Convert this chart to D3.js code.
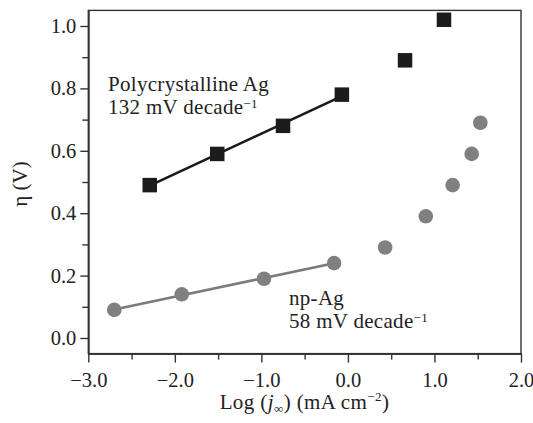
<!DOCTYPE html>
<html>
<head>
<meta charset="utf-8">
<script src="https://cdn.jsdelivr.net/npm/d3@7"></script>
<style>
  body { margin: 0; background: #fff; }
  svg text { font-family: "Liberation Serif", "DejaVu Serif", serif; fill: #222; }
</style>
</head>
<body>
<svg id="canvas" width="533" height="423"></svg>
<script>
"use strict";

// data
const polyLogJ = [-2.29, -1.51, -0.75, -0.07, 0.66, 1.11];
const polyEta = [0.49, 0.59, 0.68, 0.78, 0.89, 1.02];
const npLogJ = [-2.70, -1.92, -0.97, -0.16, 0.43, 0.90, 1.21, 1.43, 1.53];
const npEta = [0.09, 0.14, 0.19, 0.24, 0.29, 0.39, 0.49, 0.59, 0.69];
const fitCount = 4; // first four points of each series are in the Tafel fit

const xTicks = [-3, -2, -1, 0, 1, 2];
const xMinor = [-2.5, -1.5, -0.5, 0.5, 1.5];
const yTicks = [0, 0.2, 0.4, 0.6, 0.8, 1.0];
const yMinor = [0.1, 0.3, 0.5, 0.7, 0.9];

const canvas = d3.select("#canvas");

const x = d3.scaleLinear().domain([-3, 2]).range([88.3, 521]);
const y = d3.scaleLinear().domain([-0.05, 1.05]).range([353.6, 10.4]);

const axisColor = "#333";

// frame
canvas
  .append("rect")
  .attr("x", x(-3))
  .attr("y", y(1.05))
  .attr("width", x(2) - x(-3))
  .attr("height", y(-0.05) - y(1.05))
  .attr("fill", "none")
  .attr("stroke", axisColor)
  .attr("stroke-width", 1.4);

const xAxis = canvas
  .append("g")
  .attr("transform", `translate(0,${y(-0.05)})`)
  .call(d3.axisBottom(x).tickValues(xTicks).tickSize(9).tickSizeOuter(0)
    .tickFormat((d) => d3.format(".1f")(d).replace("-", "\u2212")));

canvas
  .append("g")
  .attr("transform", `translate(0,${y(-0.05)})`)
  .call(d3.axisBottom(x).tickValues(xMinor).tickSize(6).tickSizeOuter(0).tickFormat(""));

const yAxis = canvas
  .append("g")
  .attr("transform", `translate(${x(-3)},0)`)
  .call(d3.axisLeft(y).tickValues(yTicks).tickSize(8).tickSizeOuter(0)
    .tickFormat(d3.format(".1f")));

canvas
  .append("g")
  .attr("transform", `translate(${x(-3)},0)`)
  .call(d3.axisLeft(y).tickValues(yMinor).tickSize(6).tickSizeOuter(0).tickFormat(""));

canvas.selectAll(".domain").attr("stroke", axisColor).attr("stroke-width", 1.4);
canvas.selectAll(".tick line").attr("stroke", axisColor).attr("stroke-width", 1.4);
canvas.selectAll(".tick text").attr("font-size", 20.5).attr("fill", "#222")
  .style("font-family", "Liberation Serif, serif");
xAxis.selectAll(".tick text").attr("y", 19).attr("dy", "0.71em");
yAxis.selectAll(".tick text").attr("x", -12);

// least squares line over the fitted points
const fitLine = (xs, ys) => {
  const n = xs.length;
  const mx = d3.mean(xs);
  const my = d3.mean(ys);
  const slope =
    d3.sum(xs, (v, i) => (v - mx) * (ys[i] - my)) / d3.sum(xs, (v) => (v - mx) ** 2);
  const b = my - slope * mx;
  return [
    [xs[0], slope * xs[0] + b],
    [xs[n - 1], slope * xs[n - 1] + b],
  ];
};

const line = d3.line().x((d) => x(d[0])).y((d) => y(d[1]));

canvas
  .append("path")
  .attr("d", line(fitLine(npLogJ.slice(0, fitCount), npEta.slice(0, fitCount))))
  .attr("stroke", "#7b7b7b")
  .attr("stroke-width", 2.6)
  .attr("fill", "none");

canvas
  .append("path")
  .attr("d", line(fitLine(polyLogJ.slice(0, fitCount), polyEta.slice(0, fitCount))))
  .attr("stroke", "#1a1a1a")
  .attr("stroke-width", 2.6)
  .attr("fill", "none");

const npPoints = npLogJ.map((v, i) => [v, npEta[i]]);
const polyPoints = polyLogJ.map((v, i) => [v, polyEta[i]]);

canvas
  .selectAll("circle.np")
  .data(npPoints)
  .enter()
  .append("circle")
  .attr("class", "np")
  .attr("cx", (d) => x(d[0]))
  .attr("cy", (d) => y(d[1]))
  .attr("r", 7.3)
  .attr("fill", "#808080");

const side = 14.5;
canvas
  .selectAll("rect.poly")
  .data(polyPoints)
  .enter()
  .append("rect")
  .attr("class", "poly")
  .attr("x", (d) => x(d[0]) - side / 2)
  .attr("y", (d) => y(d[1]) - side / 2)
  .attr("width", side)
  .attr("height", side)
  .attr("fill", "#1c1c1c");

// annotations, one text per line so lines don't share a box
const label = (px, py, lines) => {
  lines.forEach((parts, i) => {
    const t = canvas
      .append("text")
      .attr("x", px)
      .attr("y", py + i * 23)
      .attr("font-size", 21)
      .attr("letter-spacing", 0.3);
    parts.forEach((p) => {
      const s = t.append("tspan").text(p.text);
      if (p.sup) s.attr("font-size", 13).attr("dy", -6);
    });
  });
};

label(108, 91, [
  [{ text: "Polycrystalline Ag" }],
  [{ text: "132 mV decade" }, { text: "\u22121", sup: true }],
]);

label(289, 305, [
  [{ text: "np-Ag" }],
  [{ text: "58 mV decade" }, { text: "\u22121", sup: true }],
]);

// axis titles
const xTitle = canvas
  .append("text")
  .attr("x", 304.5)
  .attr("y", 409)
  .attr("text-anchor", "middle")
  .attr("font-size", 21)
  .attr("letter-spacing", 0.4);
xTitle.append("tspan").text("Log (");
xTitle.append("tspan").text("j").attr("font-style", "italic");
xTitle.append("tspan").text("\u221e").attr("font-size", 13).attr("dy", 4);
xTitle.append("tspan").text(") (mA cm").attr("dy", -4);
xTitle.append("tspan").text("\u22122").attr("font-size", 13).attr("dy", -8);
xTitle.append("tspan").text(")").attr("dy", 8);

canvas
  .append("text")
  .attr("transform", `translate(27,184) rotate(-90)`)
  .attr("text-anchor", "middle")
  .attr("font-size", 21)
  .text("\u03b7 (V)");
</script>
</body>
</html>
